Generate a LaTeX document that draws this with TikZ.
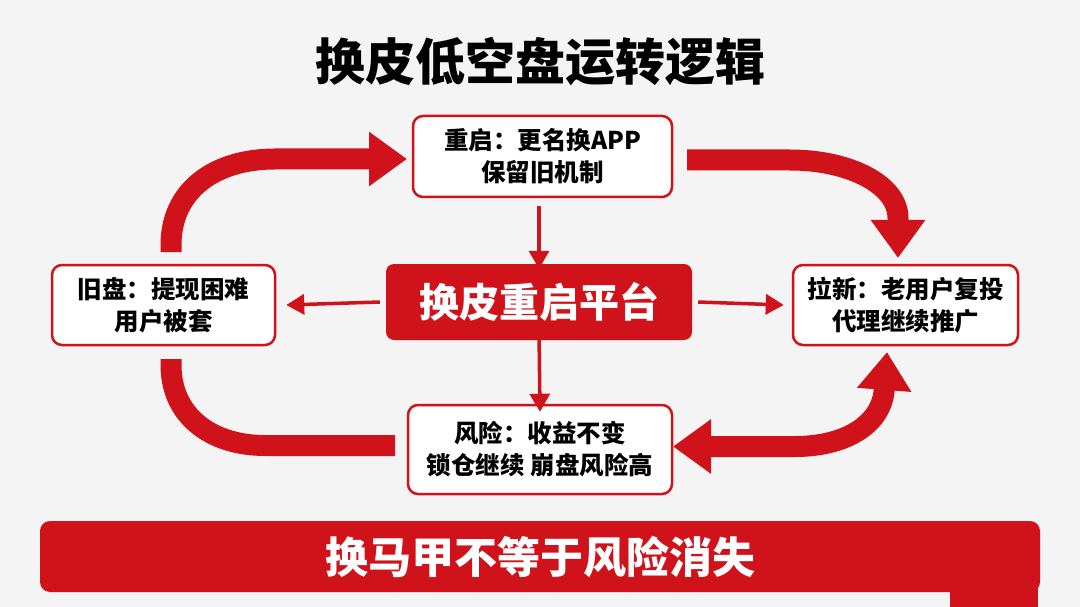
\documentclass[tikz,border=0pt]{standalone}
\usepackage{fontspec}
\newfontfamily\cjk{Noto Sans CJK SC}
\usetikzlibrary{arrows.meta,calc}
\definecolor{bgc}{RGB}{244,244,244}
\definecolor{myred}{RGB}{208,18,26}
\tikzset{
  boxnode/.style={draw=myred,line width=2.5pt,rounded corners=10pt,fill=white,align=center,
    inner sep=0pt,font=\cjk\bfseries\fontsize{24.5}{32}\selectfont},
  thin arr/.style={draw=myred,line width=3.5pt,-{Triangle[width=20pt,length=18pt]}},
  bigline/.style={draw=myred,line width=21pt},
  bigtip/.tip={Triangle[width=52pt,length=38pt]}
}
\begin{document}
\begin{tikzpicture}[x=1pt,y=-1pt]
\fill[bgc] (0,0) rectangle (1080,607);
\useasboundingbox (0,0) rectangle (1080,607);

\node[font=\cjk\bfseries\fontsize{50}{56}\selectfont,text=black] (title) at (540,62) {换皮低空盘运转逻辑};

\node[boxnode,minimum width=259pt,minimum height=81pt] (top) at (542.5,156.5) {重启：更名换APP\\保留旧机制};
\node[boxnode,minimum width=223pt,minimum height=80pt] (left) at (163.5,305) {旧盘：提现困难\\用户被套};
\node[boxnode,minimum width=225pt,minimum height=80pt] (right) at (905.5,305) {拉新：老用户复投\\代理继续推广};
\node[boxnode,minimum width=264pt,minimum height=89pt] (bottom) at (540,449.5) {风险：收益不变\\锁仓继续 崩盘风险高};
\node[fill=myred,rounded corners=8pt,minimum width=306pt,minimum height=76pt,inner sep=0pt,
  text=white,font=\cjk\bfseries\fontsize{40}{44}\selectfont] (center) at (539,302) {换皮重启平台};

% banner
\fill[myred] (950,580) rectangle (1038,607);
\node[fill=myred,rounded corners=10pt,minimum width=1000pt,minimum height=71pt,inner sep=0pt,
  text=white,font=\cjk\bfseries\fontsize{43}{48}\selectfont] (banner) at (540,556.5) {换马甲不等于风险消失};

% thin arrows
\draw[thin arr] ([yshift=-8pt]top.south -| center.north) -- ([yshift=-5pt]center.north);
\draw[thin arr] ([xshift=-6pt]center.west) -- ([xshift=10pt]left.east);
\draw[thin arr] ([xshift=6pt]center.east) -- ([xshift=-8pt]right.west);
\draw[thin arr] ([yshift=8pt]center.south) -- ([yshift=-8pt]bottom.north);

% big arrows
\coordinate (la) at (171,252);
\coordinate (lb) at (407,159);
\draw[bigline,-bigtip] (la) -- (171,245) .. controls (171,190) and (215,159) .. (275,159) -- (lb);

\coordinate (ra) at (687,160);
\coordinate (rb) at (898,258);
\draw[bigline,-bigtip] (ra) -- (790,160) .. controls (850,160) and (898,185) .. (898,218) -- (rb);

\coordinate (lc) at (171,359);
\coordinate (ld) at (395,445.5);
\draw[bigline] (lc) -- (171,365) .. controls (171,415) and (210,445.5) .. (265,445.5) -- (ld);

\coordinate (rc) at (673,446.5);
\coordinate (rd) at (887,352);
\draw[bigline,bigtip-bigtip] (rc) -- (795,446.5) .. controls (845,446.5) and (880,425) .. (884,392) -- (rd);
\end{tikzpicture}
\end{document}
